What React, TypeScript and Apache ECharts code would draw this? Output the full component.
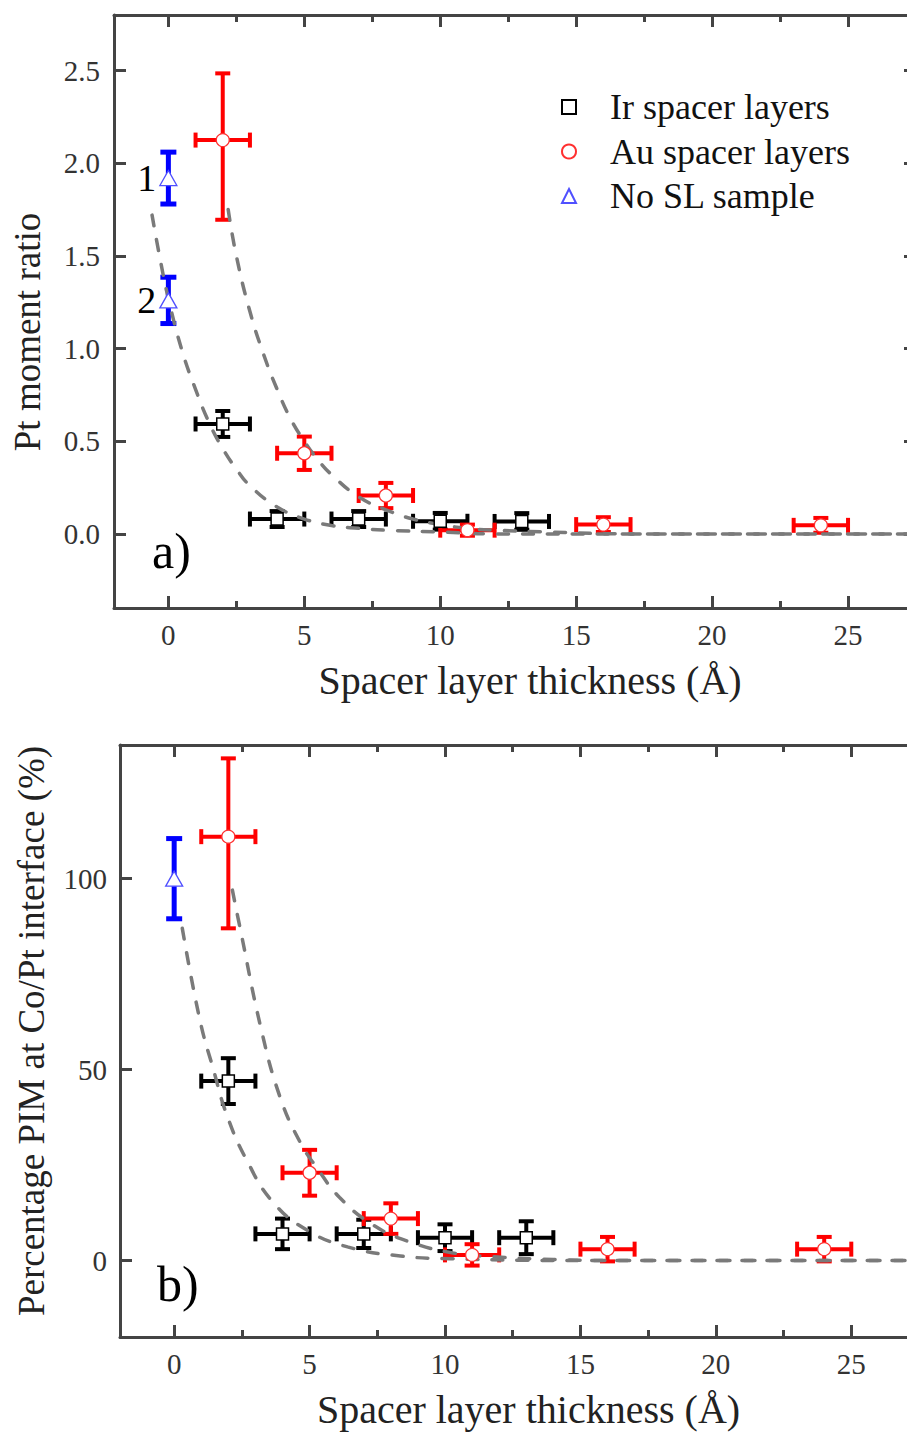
import React, { useEffect, useRef } from "react";
import * as echarts from "echarts";

const FONT = "'Liberation Serif', 'Times New Roman', serif";

// ---- axis ticks ----
const xMajorTicks = [0, 5, 10, 15, 20, 25];
const xMinorTicks = [2.5, 7.5, 12.5, 17.5, 22.5];
const yTicksA = [0, 0.5, 1, 1.5, 2, 2.5];
const yTicksB = [0, 50, 100];

// ---- Ir spacer layers ----
const irX = [2, 4, 7, 10, 13];
const irXErr = [1, 1, 1, 1, 1];
const irYA = [0.593, 0.08, 0.08, 0.068, 0.067];
const irYErrA = [0.07, 0.043, 0.043, 0.045, 0.045];
const irYB = [47, 7, 7, 6, 6];
const irYErrB = [6, 4, 3.7, 3.5, 4.3];

// ---- Au spacer layers ----
const auX = [2, 5, 8, 11, 16, 24];
const auXErr = [1, 1, 1, 1, 1, 1];
const auYA = [2.125, 0.435, 0.207, 0.02, 0.05, 0.046];
const auYErrUpA = [0.36, 0.09, 0.068, 0.03, 0.04, 0.04];
const auYErrDnA = [0.43, 0.09, 0.068, 0.03, 0.04, 0.04];
const auYB = [111, 23, 11, 1.5, 3, 3];
const auYErrUpB = [20.5, 6, 4, 2.8, 3.2, 3.2];
const auYErrDnB = [24, 6, 4, 2.8, 3.2, 3.2];

// ---- No SL sample ----
const noSLxA = [0, 0];
const noSLyA = [1.92, 1.26];
const noSLyErrA = [0.14, 0.125];
const noSLlabelsA = ["1", "2"];
const noSLxB = [0];
const noSLyB = [100];
const noSLyErrB = [10.5];

// ---- dashed fit curves ----
const auFitAx = [2.2, 2.5, 3, 3.5, 4, 4.5, 5, 5.5, 6, 7, 8, 9, 10, 11, 12, 14, 17, 27.5];
const auFitAy = [1.75, 1.5, 1.2, 0.97, 0.78, 0.62, 0.5, 0.4, 0.32, 0.2, 0.13, 0.08, 0.05, 0.03, 0.02, 0.01, 0, 0];
const irFitAx = [-0.6, -0.3, 0, 0.5, 1, 1.5, 2, 2.5, 3, 4, 5, 6, 7, 8, 10, 12, 15, 27.5];
const irFitAy = [1.72, 1.48, 1.27, 0.99, 0.78, 0.6, 0.46, 0.35, 0.26, 0.145, 0.08, 0.045, 0.03, 0.02, 0.01, 0, 0, 0];
const auFitBx = [2.15, 2.45, 3.2, 3.9, 4.65, 5.3, 6.1, 7.35, 8.7, 10.3, 11.8, 14, 17, 27.5];
const auFitBy = [97, 86.5, 61, 43, 31, 24, 16.6, 9.3, 4.9, 2, 1, 0.3, 0, 0];
const irFitBx = [0.3, 0.95, 1.45, 1.95, 2.7, 3.65, 4.9, 6.4, 8.35, 10.2, 13, 16, 27.5];
const irFitBy = [87, 63, 50, 38, 26, 15.3, 8, 3.6, 1.2, 0.5, 0.1, 0, 0];

const AXIS_COLOR = "#444";
const LABEL_COLOR = "#333";

function errBars(color: string, lw: number, cap: number) {
  return function (_params: any, api: any) {
    const x = api.value(0);
    const y = api.value(1);
    const xe = api.value(2);
    const yUp = api.value(3);
    const yDn = api.value(4);
    const c = api.coord([x, y]);
    const st = { stroke: color, lineWidth: lw };
    const ch: any[] = [];
    const h = cap / 2;
    if (yUp > 0 || yDn > 0) {
      const t = api.coord([x, y + yUp])[1];
      const b = api.coord([x, y - yDn])[1];
      ch.push({ type: "line", shape: { x1: c[0], y1: t, x2: c[0], y2: b }, style: st });
      ch.push({ type: "line", shape: { x1: c[0] - h, y1: t, x2: c[0] + h, y2: t }, style: st });
      ch.push({ type: "line", shape: { x1: c[0] - h, y1: b, x2: c[0] + h, y2: b }, style: st });
    }
    if (xe > 0) {
      const l = api.coord([x - xe, y])[0];
      const r = api.coord([x + xe, y])[0];
      ch.push({ type: "line", shape: { x1: l, y1: c[1], x2: r, y2: c[1] }, style: st });
      ch.push({ type: "line", shape: { x1: l, y1: c[1] - h, x2: l, y2: c[1] + h }, style: st });
      ch.push({ type: "line", shape: { x1: r, y1: c[1] - h, x2: r, y2: c[1] + h }, style: st });
    }
    return { type: "group", children: ch };
  };
}

function xAxesFor(grid: number, name: string, namePad: number[]) {
  const base = { gridIndex: grid, type: "value", min: -2, max: 27.5, splitLine: { show: false } };
  return [
    {
      ...base,
      position: "bottom",
      axisLine: { show: true, onZero: false, lineStyle: { color: AXIS_COLOR, width: 3 } },
      axisTick: { show: true, inside: true, length: 12, customValues: xMajorTicks, lineStyle: { color: AXIS_COLOR, width: 3 } },
      axisLabel: { show: true, customValues: xMajorTicks, fontSize: 29, fontFamily: FONT, color: LABEL_COLOR, margin: 12 },
      name,
      nameLocation: "middle",
      nameGap: 52,
      nameTextStyle: { fontSize: 40, fontFamily: FONT, color: "#222", padding: namePad },
    },
    {
      ...base,
      position: "bottom",
      axisLine: { show: false, onZero: false },
      axisTick: { show: true, inside: true, length: 7, customValues: xMinorTicks, lineStyle: { color: AXIS_COLOR, width: 3 } },
      axisLabel: { show: false },
    },
    {
      ...base,
      position: "top",
      axisLine: { show: true, onZero: false, lineStyle: { color: AXIS_COLOR, width: 3 } },
      axisTick: { show: true, inside: true, length: 12, customValues: xMajorTicks, lineStyle: { color: AXIS_COLOR, width: 3 } },
      axisLabel: { show: false },
    },
    {
      ...base,
      position: "top",
      axisLine: { show: false, onZero: false },
      axisTick: { show: true, inside: true, length: 7, customValues: xMinorTicks, lineStyle: { color: AXIS_COLOR, width: 3 } },
      axisLabel: { show: false },
    },
  ];
}

function yAxesFor(grid: number, min: number, max: number, ticks: number[], fmt: (v: number) => string, name: string, gap: number, pad: number[], margin: number) {
  const base = { gridIndex: grid, type: "value", min, max, splitLine: { show: false } };
  return [
    {
      ...base,
      position: "left",
      axisLine: { show: true, onZero: false, lineStyle: { color: AXIS_COLOR, width: 3 } },
      axisTick: { show: true, inside: true, length: 12, customValues: ticks, lineStyle: { color: AXIS_COLOR, width: 3 } },
      axisLabel: { show: true, customValues: ticks, formatter: fmt, fontSize: 29, fontFamily: FONT, color: LABEL_COLOR, margin },
      name,
      nameLocation: "middle",
      nameGap: gap,
      nameTextStyle: { fontSize: 37, fontFamily: FONT, color: "#222", padding: pad },
    },
    {
      ...base,
      position: "right",
      axisLine: { show: true, onZero: false, lineStyle: { color: AXIS_COLOR, width: 3 } },
      axisTick: { show: true, inside: true, length: 12, customValues: ticks, lineStyle: { color: AXIS_COLOR, width: 3 } },
      axisLabel: { show: false },
    },
  ];
}

function pairs(xs: number[], ys: number[]) {
  return xs.map((x, i) => [x, ys[i]]);
}
function errRows(xs: number[], ys: number[], xe: number[] | null, up: number[], dn: number[]) {
  return xs.map((x, i) => [x, ys[i], xe ? xe[i] : 0, up[i], dn[i]]);
}

function panelSeries(p: "a" | "b", xi: number, yi: number) {
  const irY = p === "a" ? irYA : irYB;
  const irE = p === "a" ? irYErrA : irYErrB;
  const auY = p === "a" ? auYA : auYB;
  const auUp = p === "a" ? auYErrUpA : auYErrUpB;
  const auDn = p === "a" ? auYErrDnA : auYErrDnB;
  const nx = p === "a" ? noSLxA : noSLxB;
  const ny = p === "a" ? noSLyA : noSLyB;
  const ne = p === "a" ? noSLyErrA : noSLyErrB;
  const fits = p === "a" ? [pairs(irFitAx, irFitAy), pairs(auFitAx, auFitAy)] : [pairs(irFitBx, irFitBy), pairs(auFitBx, auFitBy)];
  const common = { xAxisIndex: xi, yAxisIndex: yi };
  const errCommon = { ...common, type: "custom", coordinateSystem: "cartesian2d", encode: { x: 0, y: 1 }, silent: true, z: 2 };
  const fitCommon = {
    ...common,
    type: "line",
    symbol: "none",
    showSymbol: false,
    smooth: 0.45,
    silent: true,
    z: 3,
    lineStyle: { color: "#7a7a7a", width: 3.5, type: [11, 14], cap: "round" },
  };
  const noSLData = nx.map((x, i) =>
    p === "a"
      ? {
          value: [x, ny[i]],
          label: {
            show: true,
            formatter: noSLlabelsA[i],
            position: "left",
            distance: 3,
            fontSize: 38,
            fontFamily: FONT,
            color: "#000",
          },
        }
      : { value: [x, ny[i]] }
  );
  return [
    { ...errCommon, name: "Ir err " + p, data: errRows(irX, irY, irXErr, irE, irE), renderItem: errBars("#000000", 4, 15) },
    { ...errCommon, name: "Au err " + p, data: errRows(auX, auY, auXErr, auUp, auDn), renderItem: errBars("#ff0000", 4, 15) },
    { ...errCommon, name: "NoSL err " + p, data: errRows(nx, ny, null, ne, ne), renderItem: errBars("#0000ff", 5, 16) },
    { ...fitCommon, name: "Ir fit " + p, data: fits[0] },
    { ...fitCommon, name: "Au fit " + p, data: fits[1] },
    {
      ...common,
      type: "scatter",
      name: "Ir spacer layers",
      symbol: "rect",
      symbolSize: 12,
      z: 4,
      itemStyle: { color: "#ffffff", borderColor: "#000000", borderWidth: 1.5, opacity: 1 },
      data: pairs(irX, irY),
    },
    {
      ...common,
      type: "scatter",
      name: "Au spacer layers",
      symbol: "circle",
      symbolSize: 13,
      z: 4,
      itemStyle: { color: "#ffffff", borderColor: "#ff3030", borderWidth: 1.3, opacity: 1 },
      data: pairs(auX, auY),
    },
    {
      ...common,
      type: "scatter",
      name: "No SL sample",
      symbol: "triangle",
      symbolSize: [17, 15],
      z: 4,
      itemStyle: { color: "#ffffff", borderColor: "#5050ff", borderWidth: 1.3, opacity: 1 },
      data: noSLData,
    },
  ];
}

export default function App() {
  const ref = useRef<HTMLDivElement>(null);
  useEffect(() => {
    if (!ref.current) return;
    const chart = echarts.init(ref.current, null, { renderer: "svg" });
    const option: any = {
      animation: false,
      backgroundColor: "#ffffff",
      grid: [
        { left: 114, top: 15, width: 802, height: 593, outerBoundsMode: "none" },
        { left: 120, top: 745, width: 799, height: 592, outerBoundsMode: "none" },
      ],
      xAxis: [
        ...xAxesFor(0, "Spacer layer thickness (Å)", [0, 0, 0, 30]),
        ...xAxesFor(1, "Spacer layer thickness (Å)", [0, 0, 0, 18]),
      ],
      yAxis: [
        ...yAxesFor(0, -0.4, 2.8, yTicksA, (v: number) => v.toFixed(1), "Pt moment ratio", 68, [0, 41, 0, 0], 14),
        ...yAxesFor(1, -20, 135, yTicksB, (v: number) => String(v), "Percentage PIM at Co/Pt interface (%)", 70, [0, 0, 0, 20], 13),
      ],
      legend: {
        data: ["Ir spacer layers", "Au spacer layers", "No SL sample"],
        orient: "vertical",
        left: 561,
        top: 89,
        padding: 0,
        itemWidth: 14,
        itemHeight: 14,
        itemGap: 8.5,
        selectedMode: false,
        textStyle: { fontSize: 36, lineHeight: 36, fontFamily: FONT, color: "#111", padding: [0, 0, 0, 29] },
      },
      graphic: [
        { type: "text", x: 152, y: 551, style: { text: "a)", fontSize: 50, fontFamily: FONT, fill: "#000", verticalAlign: "middle", align: "left" } },
        { type: "text", x: 157, y: 1284, style: { text: "b)", fontSize: 50, fontFamily: FONT, fill: "#000", verticalAlign: "middle", align: "left" } },
      ],
      series: [...panelSeries("a", 0, 0), ...panelSeries("b", 4, 2)],
    };
    chart.setOption(option);
    return () => chart.dispose();
  }, []);
  return (
    <div style={{ position: "absolute", left: 0, top: 0, width: 907, height: 1434, overflow: "hidden", background: "#fff" }}>
      <div ref={ref} style={{ width: 930, height: 1434 }} />
    </div>
  );
}
